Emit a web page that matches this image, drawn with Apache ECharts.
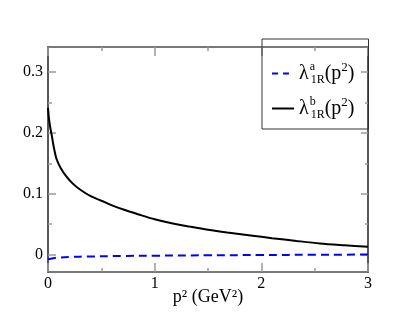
<!DOCTYPE html>
<html>
<head>
<meta charset="utf-8">
<script src="https://cdn.jsdelivr.net/npm/echarts@6/dist/echarts.min.js"></script>
<style>
  html, body { margin: 0; padding: 0; background: #fff; }
  #chart { width: 415px; height: 321px; }
</style>
</head>
<body>
<div id="chart"></div>
<script>
// lambda^b_1R(p^2), black solid
const bX = [0, 0.01, 0.02, 0.035, 0.055, 0.08, 0.12, 0.17, 0.23, 0.3, 0.4, 0.5, 0.6, 0.7, 0.85, 1.0, 1.17, 1.33, 1.5, 1.68, 1.9, 2.1, 2.33, 2.55, 2.78, 3];
const bY = [0.241, 0.222, 0.210, 0.196, 0.176, 0.157, 0.142, 0.129, 0.117, 0.107, 0.096, 0.0885, 0.081, 0.0745, 0.066, 0.058, 0.051, 0.046, 0.041, 0.0365, 0.0315, 0.027, 0.0225, 0.0185, 0.0155, 0.0129];
// lambda^a_1R(p^2), blue dashed
const aX = [0, 0.05, 0.1, 0.2, 0.4, 0.7, 1, 1.5, 2, 2.5, 3];
const aY = [-0.0075, -0.0058, -0.0048, -0.0038, -0.003, -0.0022, -0.0017, -0.0011, -0.0006, -0.0002, 0.0001];

const yMajor = [0, 0.1, 0.2, 0.3];
const yMinor = [0.05, 0.15, 0.25];

const serif = "Liberation Serif";
const frame = "#4d4d4d";
const tickCol = "#9a9a9a";

const pairs = (xs, ys) => xs.map((x, i) => [x, ys[i]]);

const chart = echarts.init(document.getElementById("chart"));

const xBase = {
  type: "value", min: 0, max: 3, interval: 1,
  axisLine: { onZero: false, lineStyle: { color: frame, width: 1.5 } },
  axisTick: { inside: true, length: 9, lineStyle: { color: tickCol, width: 1.5 } },
  minorTick: { show: true, splitNumber: 2, length: 4, lineStyle: { color: tickCol, width: 1.5 } },
  splitLine: { show: false }
};

const yBase = (pos, custom, len, labels) => ({
  type: "value", position: pos, min: -0.0285, max: 0.341,
  axisLine: { show: true, onZero: false, lineStyle: { color: frame, width: 1.5 } },
  axisTick: { inside: true, length: len, customValues: custom, lineStyle: { color: tickCol, width: 1.5 } },
  axisLabel: labels
    ? { show: true, customValues: yMajor, margin: 5, color: "#000", fontFamily: serif, fontSize: 16 }
    : { show: false },
  splitLine: { show: false }
});

const label = (sup) =>
  "{l|λ}{sa|" + sup + "}{sb|1R}{p|(p}{sp|2}{p|)}";

chart.setOption({
  animation: false,
  grid: { left: 48, right: 47, top: 47, bottom: 49 },
  xAxis: [
    Object.assign({}, xBase, {
      position: "bottom",
      axisLabel: { color: "#000", fontFamily: serif, fontSize: 16, margin: 4 },
      name: "p² (GeV²)", nameLocation: "middle", nameGap: 16, nameMoveOverlap: false,
      nameTextStyle: { color: "#000", fontFamily: serif, fontSize: 18, verticalAlign: "top" }
    }),
    Object.assign({}, xBase, { position: "top", axisLabel: { show: false } })
  ],
  yAxis: [
    yBase("left", yMajor, 8, true),
    yBase("left", yMinor, 4, false),
    yBase("right", yMajor, 7, false),
    yBase("right", yMinor, 3, false)
  ],
  legend: {
    orient: "vertical",
    left: 262, top: 39,
    padding: [22, 14, 8, 9],
    itemGap: 10,
    itemWidth: 22, itemHeight: 12,
    borderColor: "#333", borderWidth: 1,
    itemStyle: { opacity: 0 },
    data: [
      { name: "a", lineStyle: { type: [6, 5], width: 2 } },
      { name: "b", lineStyle: { width: 2 } }
    ],
    formatter: (n) => label(n),
    textStyle: {
      color: "#000", fontFamily: serif, fontSize: 19,
      rich: {
        l: { fontFamily: serif, fontSize: 20, lineHeight: 25, verticalAlign: "middle" },
        sa: { fontFamily: serif, fontSize: 12, width: 1, verticalAlign: "top", padding: [0, 0, 0, 1] },
        sb: { fontFamily: serif, fontSize: 12, verticalAlign: "bottom" },
        p: { fontFamily: serif, fontSize: 20, verticalAlign: "middle" },
        sp: { fontFamily: serif, fontSize: 13, verticalAlign: "top" }
      }
    }
  },
  series: [
    {
      name: "a", type: "line", xAxisIndex: 0, yAxisIndex: 0,
      data: pairs(aX, aY), showSymbol: false, symbol: "none", smooth: true,
      lineStyle: { color: "#0000ff", width: 2, type: [8, 5] },
      itemStyle: { color: "#0000ff" }
    },
    {
      name: "b", type: "line", xAxisIndex: 0, yAxisIndex: 0,
      data: pairs(bX, bY), showSymbol: false, symbol: "none", smooth: 0.3,
      lineStyle: { color: "#000", width: 2 },
      itemStyle: { color: "#000" }
    }
  ]
});
</script>
</body>
</html>
